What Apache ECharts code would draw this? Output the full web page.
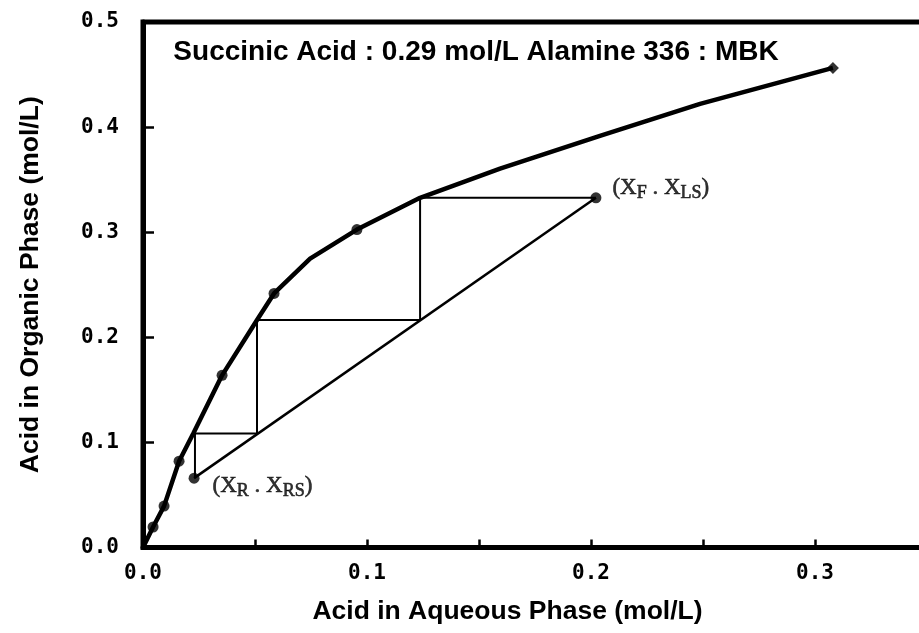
<!DOCTYPE html>
<html>
<head>
<meta charset="utf-8">
<script src="https://cdn.jsdelivr.net/npm/echarts@6/dist/echarts.min.js"></script>
<style>
html,body{margin:0;padding:0;background:#fff;}
#chart{width:919px;height:633px;}
</style>
</head>
<body>
<div id="chart"></div>
<script>
// Equilibrium curve vertices (aqueous x, organic y); eqMeasured marks plotted data points
const eqX = [0.0, 0.0045, 0.0094, 0.0161, 0.0225, 0.0353, 0.0509, 0.0585, 0.0746, 0.0955, 0.1237, 0.1594, 0.2040, 0.2487, 0.3080];
const eqY = [0.0, 0.0195, 0.0394, 0.0821, 0.1087, 0.1638, 0.2165, 0.2417, 0.2749, 0.3025, 0.3327, 0.3604, 0.3917, 0.4221, 0.4563];
const eqMeasured = [false, true, true, true, false, true, false, true, false, true, false, false, false, false, true];

// Operating line end points: (X_R, X_RS) and (X_F, X_LS)
const opX = [0.0228, 0.2022];
const opY = [0.0660, 0.3327];
const opLabels = ['R', 'F'];

// Stage stepping between operating line and equilibrium curve
const stepX = [0.2022, 0.1237, 0.1237, 0.0509, 0.0509, 0.0232, 0.0232];
const stepY = [0.3327, 0.3327, 0.2165, 0.2165, 0.1085, 0.1085, 0.0660];

const xTicks = [0.0, 0.1, 0.2, 0.3];
const yTicks = [0.0, 0.1, 0.2, 0.3, 0.4, 0.5];

const titleText = 'Succinic Acid : 0.29 mol/L Alamine 336 : MBK';
const xName = 'Acid in Aqueous Phase (mol/L)';
const yName = 'Acid in Organic Phase (mol/L)';

const zip = (a, b) => a.map((v, i) => [v, b[i]]);
const eqLine = zip(eqX, eqY);
const eqPts = eqLine.filter((p, i) => eqMeasured[i]);
const lastIdx = eqPts.length - 1;

const chart = echarts.init(document.getElementById('chart'), null, {renderer: 'canvas'});
const tickFont = '"DejaVu Sans Mono", monospace';
const sansFont = '"Liberation Sans", Arial, sans-serif';
const serifFont = '"Liberation Serif", "Times New Roman", serif';

const opt = {
  animation: false,
  backgroundColor: '#fff',
  grid: {
    left: 143, right: -8, top: 22, bottom: 85.5,
    show: true, borderColor: '#000', borderWidth: 5, backgroundColor: 'transparent',
    containLabel: false, outerBoundsMode: 'none'
  },
  xAxis: {
    type: 'value', min: 0, max: 0.35, interval: 0.05,
    name: xName, nameLocation: 'middle', nameGap: 51,
    nameTextStyle: {fontSize: 26.5, fontWeight: 'bold', fontFamily: sansFont, color: '#000', padding: [0, 55, 0, 0]},
    axisLine: {show: true, lineStyle: {color: '#000', width: 5}},
    axisTick: {show: true, inside: true, length: 8, lineStyle: {color: '#000', width: 2.5}},
    axisLabel: {
      margin: 16, fontSize: 21, fontWeight: 'bold', fontFamily: tickFont, color: '#000',
      formatter: v => {
        const hit = xTicks.find(t => Math.abs(t - v) < 1e-6);
        return hit === undefined ? '' : hit.toFixed(1);
      }
    },
    splitLine: {show: false}
  },
  yAxis: {
    type: 'value', min: 0, max: 0.5, interval: 0.1,
    name: yName, nameLocation: 'middle', nameGap: 99,
    nameTextStyle: {fontSize: 26.5, fontWeight: 'bold', fontFamily: sansFont, color: '#000'},
    axisLine: {show: true, lineStyle: {color: '#000', width: 5}},
    axisTick: {show: true, inside: true, length: 11, lineStyle: {color: '#000', width: 2.5}},
    axisLabel: {
      margin: 24, fontSize: 21, fontWeight: 'bold', fontFamily: tickFont, color: '#000',
      formatter: v => {
        const hit = yTicks.find(t => Math.abs(t - v) < 1e-6);
        return hit === undefined ? '' : hit.toFixed(1);
      }
    },
    splitLine: {show: false}
  },
  graphic: [{
    type: 'text', x: 476, y: 52,
    style: {text: titleText, font: 'bold 28px ' + sansFont, fill: '#000', align: 'center', verticalAlign: 'middle'}
  }],
  series: [
    {
      type: 'line', data: zip(stepX, stepY), showSymbol: false, symbol: 'none',
      lineStyle: {color: '#000', width: 2}, z: 2
    },
    {
      type: 'line', data: zip(opX, opY), showSymbol: false, symbol: 'none',
      lineStyle: {color: '#000', width: 2.5}, z: 3
    },
    {
      type: 'line', data: eqLine, showSymbol: false, symbol: 'none',
      lineStyle: {color: '#000', width: 4.5}, z: 4
    },
    {
      type: 'scatter', z: 5,
      data: eqPts.map((p, i) => ({value: p, symbol: i === lastIdx ? 'diamond' : 'circle', symbolSize: i === lastIdx ? 12 : 11})),
      itemStyle: {color: '#000'}
    },
    {
      type: 'scatter', z: 6, symbol: 'circle', symbolSize: 11,
      itemStyle: {color: '#000'},
      data: opX.map((x, i) => ({
        value: [x, opY[i]],
        label: {
          show: true, position: 'right',
          distance: opLabels[i] === 'F' ? 11 : 13,
          offset: opLabels[i] === 'F' ? [0, -10] : [0, 8],
          formatter: opLabels[i] === 'F' ? '(X{s|F} . X{s|LS})' : '(X{s|R} . X{s|RS})',
          fontFamily: serifFont, fontSize: 23, color: '#000',
          textBorderColor: '#000', textBorderWidth: 0.6,
          rich: {s: {fontFamily: serifFont, fontSize: 18, color: '#000', textBorderColor: '#000', textBorderWidth: 0.6, padding: [11, 0, 0, 0]}}
        }
      }))
    }
  ]
};
chart.setOption(opt);
</script>
</body>
</html>
